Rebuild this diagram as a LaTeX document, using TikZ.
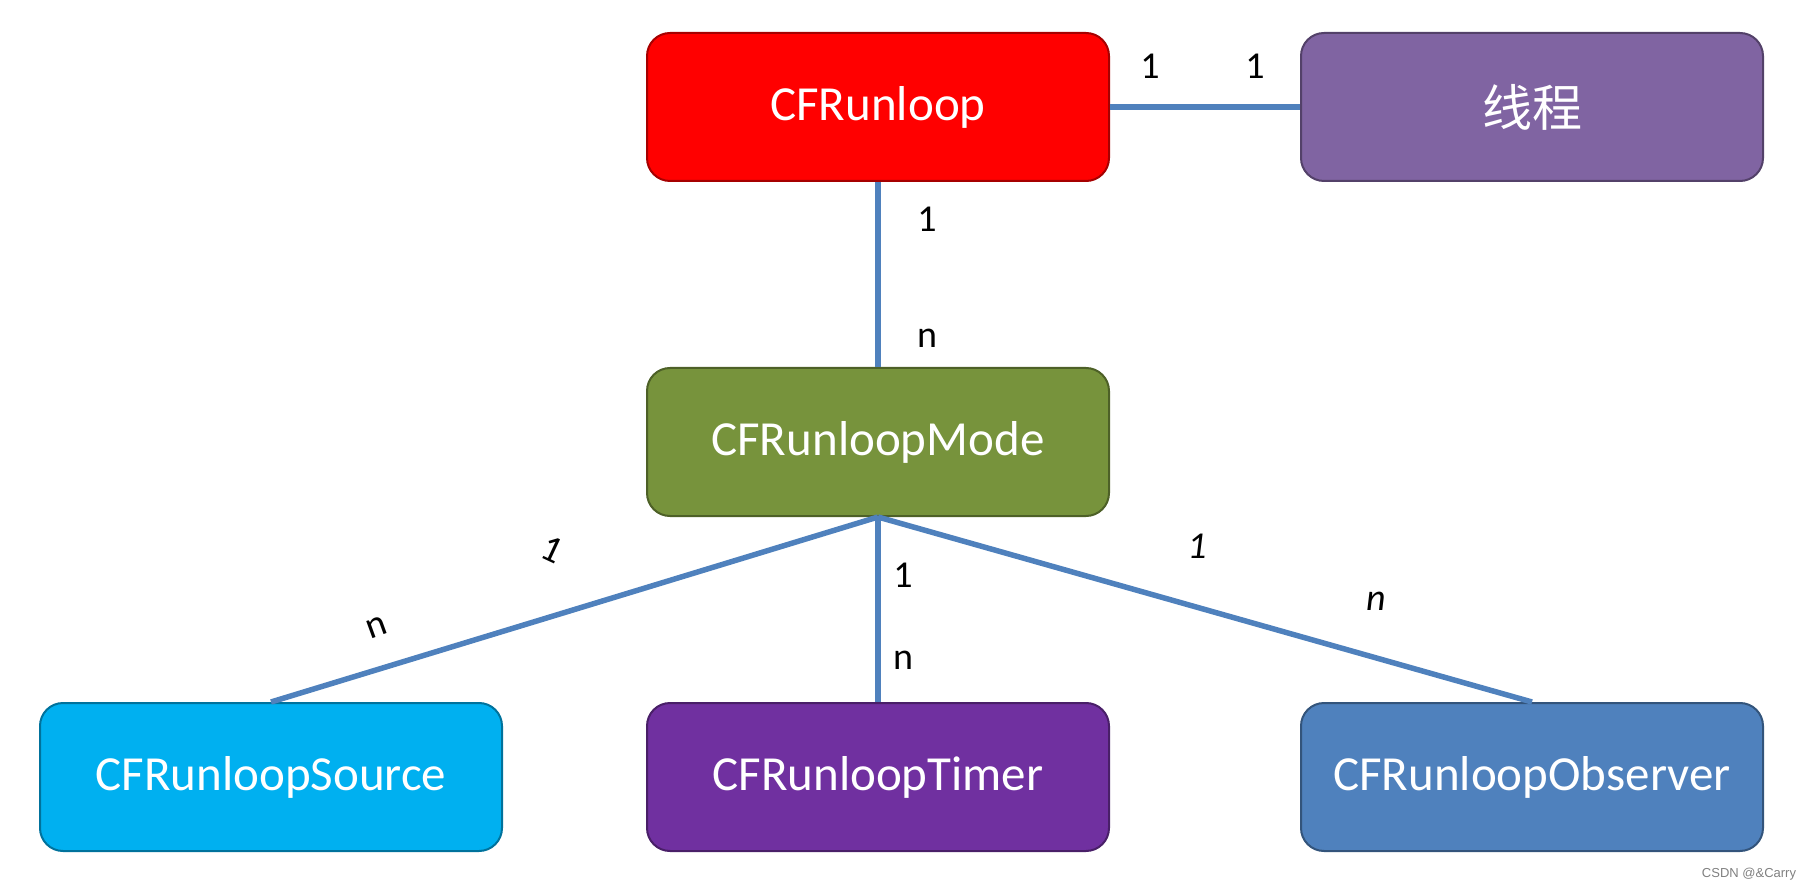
\documentclass[tikz,border=0pt]{standalone}
\usepackage{fontspec}
\setmainfont{Carlito}
\newfontfamily\cjk{Noto Sans CJK SC}
\newfontfamily\markfont{Liberation Sans}
\usetikzlibrary{positioning}
\definecolor{linkblue}{HTML}{4F81BD}
\definecolor{loopred}{HTML}{FF0000}
\definecolor{threadpurple}{HTML}{8064A2}
\definecolor{modegreen}{HTML}{77933C}
\definecolor{sourcecyan}{HTML}{00B0F0}
\definecolor{timerpurple}{HTML}{7030A0}
\definecolor{observerblue}{HTML}{4F81BD}
\tikzset{
  box/.style={draw=#1!65!black,fill=#1,line width=2pt,rounded corners=23pt,
    minimum width=462pt,minimum height=148pt,text=white,font=\fontsize{49}{56}\selectfont},
  link/.style={draw=linkblue,line width=5.5pt},
  num/.style={font=\fontsize{38}{44}\selectfont,text=black}
}
\begin{document}
\begin{tikzpicture}[x=1pt,y=-1pt]
\useasboundingbox (0,0) rectangle (1810,890);
%boxes
\node[box=loopred](loop)at(878,107){CFRunloop};
\node[box=threadpurple,font=\cjk\fontsize{50}{58}\selectfont](thread)at(1532,107){线程};
\node[box=modegreen](mode)at(878,442){CFRunloopMode};
\node[box=sourcecyan](source)at(271,777){CFRunloopSource};
\node[box=timerpurple](timer)at(878,777){CFRunloopTimer};
\node[box=observerblue](observer)at(1532,777){CFRunloopObserver};
%links
\draw[link](loop.east)--(thread.west);
\draw[link](loop.south)--(mode.north);
\draw[link](mode.south)--(source.north);
\draw[link](mode.south)--(timer.north);
\draw[link](mode.south)--(observer.north);
%labels
\node[num](a1)at(1150,66){1};
\node[num](b1)at(1255,66){1};
\node[num](c1)at(927,219){1};
\node[num](cn)at(927,338){n};
\node[num,rotate=-25](d1)at(552,549){1};
\node[num,rotate=20](dn)at(377,627){n};
\node[num](e1)at(903,575){1};
\node[num](en)at(903,660){n};
\node[num,font=\itshape\fontsize{38}{44}\selectfont](f1)at(1197,546){1};
\node[num,font=\itshape\fontsize{38}{44}\selectfont](fn)at(1376,601){n};
\node[font=\markfont\fontsize{13}{15}\selectfont,text=gray](mark)at(1749,874){CSDN @\&Carry};
\end{tikzpicture}
\end{document}
